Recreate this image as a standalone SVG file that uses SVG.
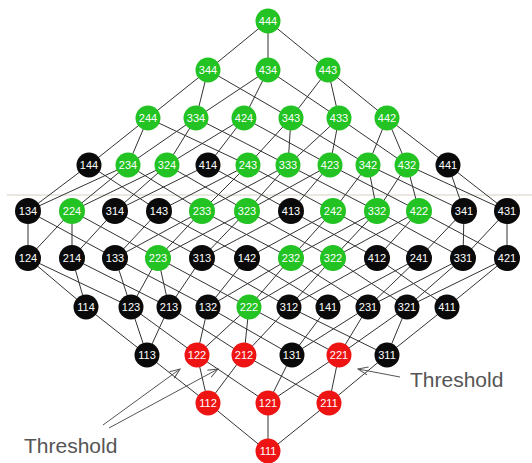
<svg xmlns="http://www.w3.org/2000/svg" width="532" height="463" viewBox="0 0 532 463">
<style>
.e{stroke:#333;stroke-width:1;fill:none}
.g{fill:#22c322}.r{fill:#ee1414}.k{fill:#0a0a0a}
.n text{font-family:"Liberation Sans",Arial,sans-serif;font-size:11px;fill:#fff;text-anchor:middle}
.lbl{font-family:"Liberation Sans",Arial,sans-serif;font-size:21px;fill:#555}
.arr{stroke:#555;stroke-width:1;fill:none}
</style>
<defs>
<marker id="ah" markerWidth="12" markerHeight="10" refX="11" refY="5" orient="auto" markerUnits="userSpaceOnUse">
<path d="M1,1 L11,5 L1,9" fill="none" stroke="#555" stroke-width="1"/>
</marker>
</defs>
<rect width="532" height="463" fill="#fff"/>
<line x1="7" y1="195" x2="532" y2="195" stroke="#d4d0c2" stroke-width="1"/>
<g id="connectors">
<path class="e" d="M268,21L208,70M268,21L268,70M268,21L328,70
M208,70L148,118M208,70L196,118M208,70L291,118
M268,70L196,118M268,70L244,118M268,70L339,118
M328,70L291,118M328,70L339,118M328,70L387,118
M148,118L89,165M148,118L128,165M148,118L248,165
M196,118L128,165M196,118L167,165M196,118L288,165
M244,118L167,165M244,118L208,165M244,118L330,165
M291,118L248,165M291,118L288,165M291,118L368,165
M339,118L288,165M339,118L330,165M339,118L407,165
M387,118L368,165M387,118L407,165M387,118L448,165
M89,165L28,211M89,165L159,211
M128,165L28,211M128,165L72,211M128,165L202,211
M167,165L72,211M167,165L115,211M167,165L247,211
M208,165L115,211M208,165L291,211
M248,165L159,211M248,165L202,211M248,165L333,211
M288,165L202,211M288,165L247,211M288,165L377,211
M330,165L247,211M330,165L291,211M330,165L419,211
M368,165L333,211M368,165L377,211M368,165L464,211
M407,165L377,211M407,165L419,211M407,165L507,211
M448,165L464,211M448,165L507,211
M28,211L28,258M28,211L115,258
M72,211L28,258M72,211L72,258M72,211L158,258
M115,211L72,258M115,211L202,258
M159,211L115,258M159,211L247,258
M202,211L115,258M202,211L158,258M202,211L291,258
M247,211L158,258M247,211L202,258M247,211L333,258
M291,211L202,258M291,211L377,258
M333,211L247,258M333,211L291,258M333,211L419,258
M377,211L291,258M377,211L333,258M377,211L463,258
M419,211L333,258M419,211L377,258M419,211L507,258
M464,211L419,258M464,211L463,258
M507,211L463,258M507,211L507,258
M28,258L86,307M28,258L131,307
M72,258L86,307M72,258L169,307
M115,258L131,307M115,258L208,307
M158,258L131,307M158,258L169,307M158,258L249,307
M202,258L169,307M202,258L289,307
M247,258L208,307M247,258L328,307
M291,258L208,307M291,258L249,307M291,258L368,307
M333,258L249,307M333,258L289,307M333,258L407,307
M377,258L289,307M377,258L447,307
M419,258L328,307M419,258L368,307
M463,258L368,307M463,258L407,307
M507,258L407,307M507,258L447,307
M86,307L147,355
M131,307L147,355M131,307L197,355
M169,307L147,355M169,307L244,355
M208,307L197,355M208,307L292,355
M249,307L197,355M249,307L244,355M249,307L339,355
M289,307L244,355M289,307L387,355
M328,307L292,355
M368,307L292,355M368,307L339,355
M407,307L339,355M407,307L387,355
M447,307L387,355
M147,355L208,403
M197,355L208,403M197,355L268,403
M244,355L208,403M244,355L329,403
M292,355L268,403
M339,355L268,403M339,355L329,403
M387,355L329,403
M208,403L268,452M268,403L268,452M329,403L268,452"/>
</g>
<g id="n444" class="n"><circle class="g" cx="268" cy="21" r="12.5"/><text x="268" y="25">444</text></g>
<g id="n344" class="n"><circle class="g" cx="208" cy="70" r="12.5"/><text x="208" y="74">344</text></g>
<g id="n434" class="n"><circle class="g" cx="268" cy="70" r="12.5"/><text x="268" y="74">434</text></g>
<g id="n443" class="n"><circle class="g" cx="328" cy="70" r="12.5"/><text x="328" y="74">443</text></g>
<g id="n244" class="n"><circle class="g" cx="148" cy="118" r="12.5"/><text x="148" y="122">244</text></g>
<g id="n334" class="n"><circle class="g" cx="196" cy="118" r="12.5"/><text x="196" y="122">334</text></g>
<g id="n424" class="n"><circle class="g" cx="244" cy="118" r="12.5"/><text x="244" y="122">424</text></g>
<g id="n343" class="n"><circle class="g" cx="291" cy="118" r="12.5"/><text x="291" y="122">343</text></g>
<g id="n433" class="n"><circle class="g" cx="339" cy="118" r="12.5"/><text x="339" y="122">433</text></g>
<g id="n442" class="n"><circle class="g" cx="387" cy="118" r="12.5"/><text x="387" y="122">442</text></g>
<g id="n144" class="n"><circle class="k" cx="89" cy="165" r="12.5"/><text x="89" y="169">144</text></g>
<g id="n234" class="n"><circle class="g" cx="128" cy="165" r="12.5"/><text x="128" y="169">234</text></g>
<g id="n324" class="n"><circle class="g" cx="167" cy="165" r="12.5"/><text x="167" y="169">324</text></g>
<g id="n414" class="n"><circle class="k" cx="208" cy="165" r="12.5"/><text x="208" y="169">414</text></g>
<g id="n243" class="n"><circle class="g" cx="248" cy="165" r="12.5"/><text x="248" y="169">243</text></g>
<g id="n333" class="n"><circle class="g" cx="288" cy="165" r="12.5"/><text x="288" y="169">333</text></g>
<g id="n423" class="n"><circle class="g" cx="330" cy="165" r="12.5"/><text x="330" y="169">423</text></g>
<g id="n342" class="n"><circle class="g" cx="368" cy="165" r="12.5"/><text x="368" y="169">342</text></g>
<g id="n432" class="n"><circle class="g" cx="407" cy="165" r="12.5"/><text x="407" y="169">432</text></g>
<g id="n441" class="n"><circle class="k" cx="448" cy="165" r="12.5"/><text x="448" y="169">441</text></g>
<g id="n134" class="n"><circle class="k" cx="28" cy="211" r="13"/><text x="28" y="215">134</text></g>
<g id="n224" class="n"><circle class="g" cx="72" cy="211" r="13"/><text x="72" y="215">224</text></g>
<g id="n314" class="n"><circle class="k" cx="115" cy="211" r="13"/><text x="115" y="215">314</text></g>
<g id="n143" class="n"><circle class="k" cx="159" cy="211" r="13"/><text x="159" y="215">143</text></g>
<g id="n233" class="n"><circle class="g" cx="202" cy="211" r="13"/><text x="202" y="215">233</text></g>
<g id="n323" class="n"><circle class="g" cx="247" cy="211" r="13"/><text x="247" y="215">323</text></g>
<g id="n413" class="n"><circle class="k" cx="291" cy="211" r="13"/><text x="291" y="215">413</text></g>
<g id="n242" class="n"><circle class="g" cx="333" cy="211" r="13"/><text x="333" y="215">242</text></g>
<g id="n332" class="n"><circle class="g" cx="377" cy="211" r="13"/><text x="377" y="215">332</text></g>
<g id="n422" class="n"><circle class="g" cx="419" cy="211" r="13"/><text x="419" y="215">422</text></g>
<g id="n341" class="n"><circle class="k" cx="464" cy="211" r="13"/><text x="464" y="215">341</text></g>
<g id="n431" class="n"><circle class="k" cx="507" cy="211" r="13"/><text x="507" y="215">431</text></g>
<g id="n124" class="n"><circle class="k" cx="28" cy="258" r="13"/><text x="28" y="262">124</text></g>
<g id="n214" class="n"><circle class="k" cx="72" cy="258" r="13"/><text x="72" y="262">214</text></g>
<g id="n133" class="n"><circle class="k" cx="115" cy="258" r="13"/><text x="115" y="262">133</text></g>
<g id="n223" class="n"><circle class="g" cx="158" cy="258" r="13"/><text x="158" y="262">223</text></g>
<g id="n313" class="n"><circle class="k" cx="202" cy="258" r="13"/><text x="202" y="262">313</text></g>
<g id="n142" class="n"><circle class="k" cx="247" cy="258" r="13"/><text x="247" y="262">142</text></g>
<g id="n232" class="n"><circle class="g" cx="291" cy="258" r="13"/><text x="291" y="262">232</text></g>
<g id="n322" class="n"><circle class="g" cx="333" cy="258" r="13"/><text x="333" y="262">322</text></g>
<g id="n412" class="n"><circle class="k" cx="377" cy="258" r="13"/><text x="377" y="262">412</text></g>
<g id="n241" class="n"><circle class="k" cx="419" cy="258" r="13"/><text x="419" y="262">241</text></g>
<g id="n331" class="n"><circle class="k" cx="463" cy="258" r="13"/><text x="463" y="262">331</text></g>
<g id="n421" class="n"><circle class="k" cx="507" cy="258" r="13"/><text x="507" y="262">421</text></g>
<g id="n114" class="n"><circle class="k" cx="86" cy="307" r="12.5"/><text x="86" y="311">114</text></g>
<g id="n123" class="n"><circle class="k" cx="131" cy="307" r="12.5"/><text x="131" y="311">123</text></g>
<g id="n213" class="n"><circle class="k" cx="169" cy="307" r="12.5"/><text x="169" y="311">213</text></g>
<g id="n132" class="n"><circle class="k" cx="208" cy="307" r="12.5"/><text x="208" y="311">132</text></g>
<g id="n222" class="n"><circle class="g" cx="249" cy="307" r="12.5"/><text x="249" y="311">222</text></g>
<g id="n312" class="n"><circle class="k" cx="289" cy="307" r="12.5"/><text x="289" y="311">312</text></g>
<g id="n141" class="n"><circle class="k" cx="328" cy="307" r="12.5"/><text x="328" y="311">141</text></g>
<g id="n231" class="n"><circle class="k" cx="368" cy="307" r="12.5"/><text x="368" y="311">231</text></g>
<g id="n321" class="n"><circle class="k" cx="407" cy="307" r="12.5"/><text x="407" y="311">321</text></g>
<g id="n411" class="n"><circle class="k" cx="447" cy="307" r="12.5"/><text x="447" y="311">411</text></g>
<g id="n113" class="n"><circle class="k" cx="147" cy="355" r="12.5"/><text x="147" y="359">113</text></g>
<g id="n122" class="n"><circle class="r" cx="197" cy="355" r="12.5"/><text x="197" y="359">122</text></g>
<g id="n212" class="n"><circle class="r" cx="244" cy="355" r="12.5"/><text x="244" y="359">212</text></g>
<g id="n131" class="n"><circle class="k" cx="292" cy="355" r="12.5"/><text x="292" y="359">131</text></g>
<g id="n221" class="n"><circle class="r" cx="339" cy="355" r="12.5"/><text x="339" y="359">221</text></g>
<g id="n311" class="n"><circle class="k" cx="387" cy="355" r="12.5"/><text x="387" y="359">311</text></g>
<g id="n112" class="n"><circle class="r" cx="208" cy="403" r="12.5"/><text x="208" y="407">112</text></g>
<g id="n121" class="n"><circle class="r" cx="268" cy="403" r="12.5"/><text x="268" y="407">121</text></g>
<g id="n211" class="n"><circle class="r" cx="329" cy="403" r="12.5"/><text x="329" y="407">211</text></g>
<g id="n111" class="n"><circle class="r" cx="268" cy="451" r="12.5"/><text x="268" y="455">111</text></g>
<g id="annotations">
<line class="arr" x1="103" y1="425" x2="180" y2="369" marker-end="url(#ah)"/>
<line class="arr" x1="109" y1="428" x2="218" y2="369" marker-end="url(#ah)"/>
<line class="arr" x1="400" y1="377" x2="358" y2="369" marker-end="url(#ah)"/>
<text class="lbl" x="24" y="453">Threshold</text>
<text class="lbl" x="410" y="387">Threshold</text>
</g>
</svg>
